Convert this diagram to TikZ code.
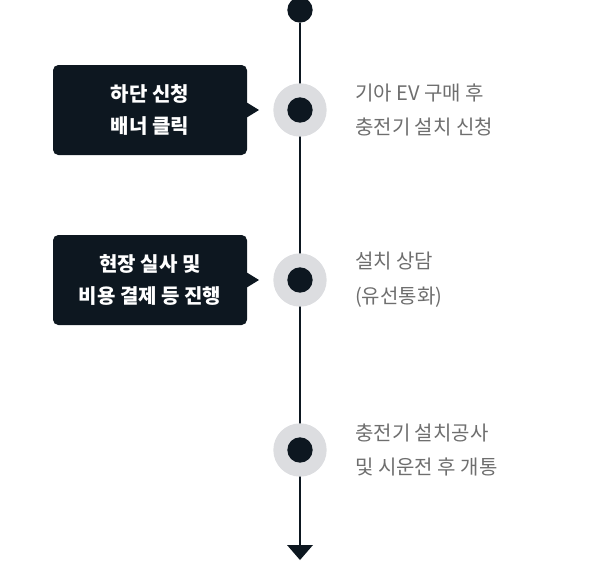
\documentclass[tikz,border=0pt]{standalone}
\usepackage{fontspec}
\newfontfamily\kr{Noto Sans CJK KR}
\usetikzlibrary{positioning}
\definecolor{navy}{RGB}{13,23,32}
\definecolor{halo}{RGB}{220,221,224}
\definecolor{txtgrey}{RGB}{110,110,110}
\tikzset{
  stepdot/.style={circle,fill=navy,inner sep=0pt,minimum size=19},
  stephalo/.style={circle,fill=halo,inner sep=0pt,minimum size=40},
  callout/.style={fill=navy,rounded corners=4,text=white,font=\kr\bfseries\fontsize{15}{24}\selectfont,align=center,minimum width=145.5,minimum height=67.5},
  desc/.style={anchor=west,text=txtgrey,font=\kr\fontsize{15}{26}\selectfont,align=left,inner sep=0pt}
}
\begin{document}
\begin{tikzpicture}[x=0.75pt,y=0.75pt,yscale=-1,xscale=1]
\useasboundingbox (0,0) rectangle (600,561);

% timeline
\node[stepdot] (top) at (300,10) {};
\coordinate (end) at (300,560);
\draw[navy,line width=1.5] (top) -- (300,545);
\fill[navy] (287,545) -- (313,545) -- (300,560) -- cycle;

% steps
\foreach \n/\y in {s1/110,s2/280,s3/450}{
  \node[stephalo] at (300,\y) {};
  \node[stepdot] (\n) at (300,\y) {};
}

% callouts
\node[callout] (c1) at (150,110) {하단 신청\\배너 클릭};
\fill[navy] (246,102) -- (259,110) -- (246,118) -- cycle;
\node[callout] (c2) at (150,280) {현장 실사 및\\비용 결제 등 진행};
\fill[navy] (246,272) -- (259,280) -- (246,288) -- cycle;

% descriptions
\node[desc,right=42 of s1] {기아 EV 구매 후\\충전기 설치 신청};
\node[desc,right=42 of s2] {설치 상담\\(유선통화)};
\node[desc,right=42 of s3] {충전기 설치공사\\및 시운전 후 개통};
\end{tikzpicture}
\end{document}
